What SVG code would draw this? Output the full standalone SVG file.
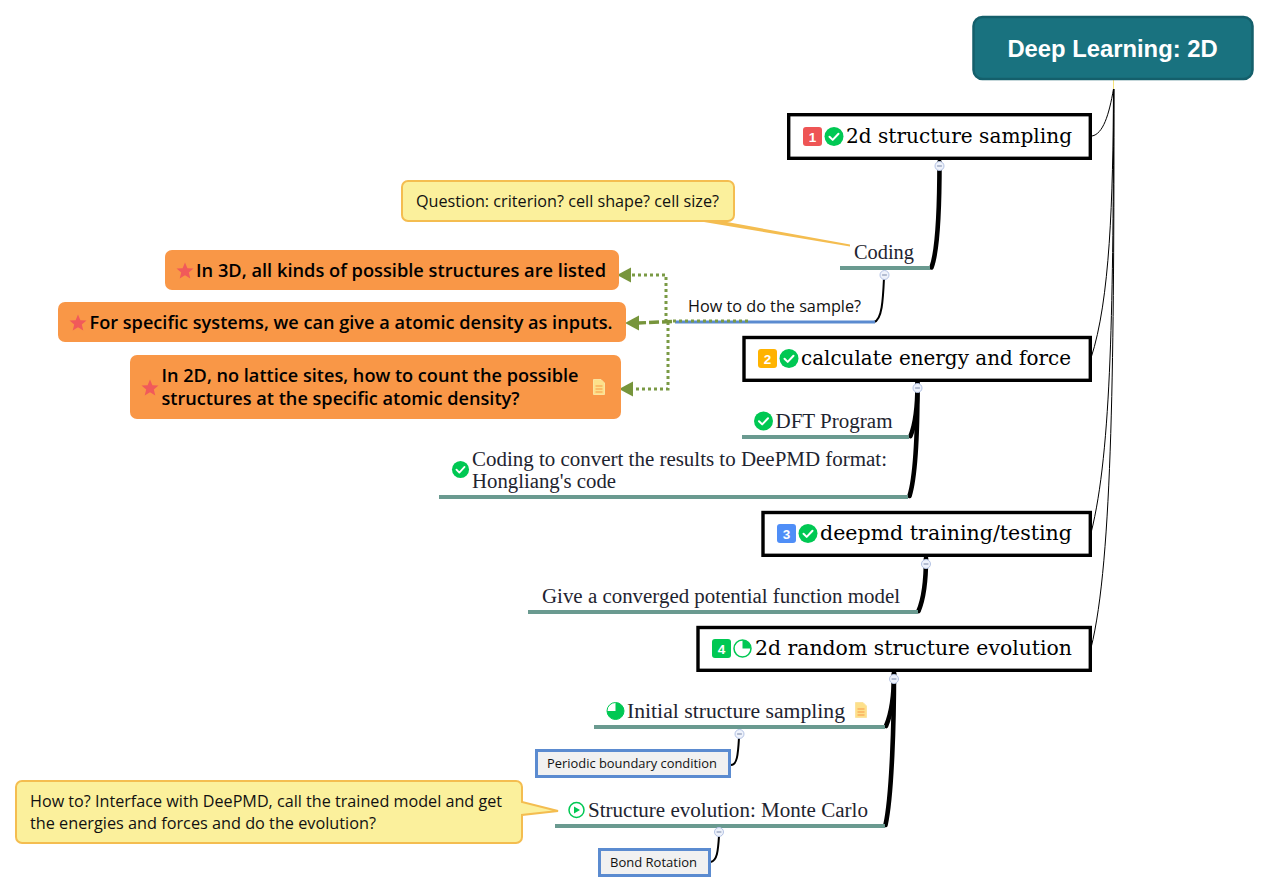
<svg xmlns="http://www.w3.org/2000/svg" width="1270" height="893" viewBox="0 0 1270 893">
<style>
.main{fill:#fff;stroke:#000;stroke-width:3.400}
.mt{font-family:"DejaVu Serif",serif;font-size:20.500px;fill:#000}
.sub{font-family:"Liberation Serif","DejaVu Serif",serif;font-size:20px;fill:#1e2430}
.note{font-family:"Open Sans",sans-serif;font-size:16px;fill:#111}
.bold{font-family:"Open Sans",sans-serif;font-weight:600;font-size:17.500px;fill:#000}
.box{fill:#f1f1f1;stroke:#5b8bd0;stroke-width:3}
.boxt{font-family:"Open Sans",sans-serif;font-size:12.500px;fill:#111}
.org{fill:#f99747}
.call{fill:#fbf09c;stroke:#f4bd50;stroke-width:2}
.ul{fill:#6a9a90}
.thin{fill:none;stroke:#000;stroke-width:1}
.thick{fill:none;stroke:#000;stroke-width:4.600;stroke-linecap:round}
.ch{fill:none;stroke:#000;stroke-width:2}
.dot{fill:none;stroke:#7a9a45;stroke-width:3;stroke-dasharray:3 3}
.dash{fill:none;stroke:#77953c;stroke-width:3.400;stroke-dasharray:10 3}
.ah{fill:#77953c}
.tog{fill:#eef2fb;stroke:#b4c3e4;stroke-width:1}
.togl{stroke:#7a88a8;stroke-width:1}
.chk{fill:#00c853}
.tick{fill:none;stroke:#fff;stroke-width:2;stroke-linecap:round;stroke-linejoin:round}
.num{font-family:"Liberation Sans",sans-serif;font-weight:700;font-size:13.500px;fill:#fff;text-anchor:middle}
.star{fill:#f15a5a}
.doc{fill:#fde08a;stroke:#fbe3a0;stroke-width:1}
.docl{stroke:#f99747;stroke-width:1}
</style>
<defs>
<g id="check"><circle r="9.500" class="chk"/><path class="tick" d="M-4.500 0.200L-1.300 3.400L4.500 -2.800"/></g>
<path id="st" class="star" d="M0 -8.500L2.400 -2.800L8.500 -2.400L3.800 1.500L5.300 7.500L0 4.200L-5.300 7.500L-3.800 1.500L-8.500 -2.400L-2.400 -2.800Z"/>
<g id="docicon"><path class="doc" d="M-5.500 -7.500H2L5.500 -4V7.500H-5.500Z"/><path class="docl" d="M-3.500 -1H3.500M-3.500 2H3.500M-3.500 5H3.500"/></g>
<g id="minus"><circle r="4.500" class="tog"/><path class="togl" d="M-2.400 0H2.400"/></g>
</defs>
<g id="connectors">
<path class="thin" d="M1092 136C1103 134 1109 115 1113.500 89"/>
<path class="thin" d="M1113.500 89C1113 200 1110 300 1091 358"/>
<path class="thin" d="M1113.800 89C1113 300 1112 450 1091 533"/>
<path class="thin" d="M1114 89C1114 350 1113 560 1091 648"/>
<path d="M1113.500 80V89" stroke="#f6e27a" stroke-width="1" fill="none"/>
<path class="thick" d="M939.500 162C939.500 200 938 250 931.500 267.500"/>
<path class="thick" d="M917.500 383C917.500 410 915 425 910.500 436"/>
<path class="thick" d="M917.500 383C917.500 420 916 475 909.500 496"/>
<path class="thick" d="M926 558C926 580 924 598 918.500 611"/>
<path class="thick" d="M894 673C894 695 892 712 886 726"/>
<path class="thick" d="M894 673C894 720 892 795 885.500 825"/>
<path class="ch" d="M884 278C883 300 882 320 874 322"/>
<path class="ch" d="M739 738C738 755 737 765 731 765"/>
<path class="ch" d="M719 836C718 852 717 860 711 862"/>
<path d="M692 220H716L850 244.500V246.500Z" fill="#f4bd50"/>
<rect x="840" y="266" width="90" height="4" class="ul"/>
<rect x="675" y="320.500" width="200" height="3" fill="#5b8bd0"/>
<rect x="742" y="435" width="167" height="4" class="ul"/>
<rect x="439" y="495" width="469" height="4" class="ul"/>
<rect x="528" y="610" width="390" height="4" class="ul"/>
<rect x="594" y="725" width="291" height="4" class="ul"/>
<rect x="555" y="824" width="330" height="4" class="ul"/>
<path class="dot" d="M666 322V275H630"/>
<path class="dot" d="M668 322V389H632"/>
<path class="dot" d="M748 321H672"/>
<path class="dash" d="M672 321.500L638 323"/>
<path class="ah" d="M617 275L631 267.500V282.500Z"/>
<path class="ah" d="M625 323L639 315.500V330.500Z"/>
<path class="ah" d="M619 389L633 381.500V396.500Z"/>
<use href="#minus" x="939.500" y="166"/>
<use href="#minus" x="884.500" y="275"/>
<use href="#minus" x="917.500" y="388"/>
<use href="#minus" x="926" y="564"/>
<use href="#minus" x="894" y="679"/>
<use href="#minus" x="739.500" y="734"/>
<use href="#minus" x="719" y="832"/>
</g>
<g id="root">
<rect x="973.500" y="17" width="279" height="62" rx="9" fill="#19727f" stroke="#145f6b" stroke-width="2.500"/>
<text x="1112.500" y="57" text-anchor="middle" font-family="Liberation Sans,sans-serif" font-weight="700" font-size="23.800px" fill="#fff">Deep Learning: 2D</text>
</g>
<g id="n1">
<rect x="788.700" y="114.700" width="301.600" height="43.600" class="main"/>
<rect x="803" y="127" width="19" height="19" rx="3" fill="#ee5555"/><text x="812.500" y="141.500" class="num">1</text>
<use href="#check" x="834" y="136.500"/>
<text x="846" y="143" class="mt" textLength="226" lengthAdjust="spacingAndGlyphs">2d structure sampling</text>
</g>
<g id="n1-1"><text x="854" y="259" class="sub" textLength="60" lengthAdjust="spacingAndGlyphs">Coding</text></g>
<g id="n1-q">
<rect x="402" y="181" width="332" height="40" rx="6" class="call"/>
<text x="416" y="206.500" class="note" textLength="303" lengthAdjust="spacingAndGlyphs">Question: criterion? cell shape? cell size?</text>
</g>
<g id="n1-2"><text x="688" y="312" class="note" textLength="173" lengthAdjust="spacingAndGlyphs">How to do the sample?</text></g>
<g id="o1">
<rect x="165" y="250" width="454" height="40" rx="7" class="org"/>
<use href="#st" x="185" y="271"/>
<text x="196" y="276.500" class="bold" textLength="410" lengthAdjust="spacingAndGlyphs">In 3D, all kinds of possible structures are listed</text>
</g>
<g id="o2">
<rect x="58" y="302" width="568" height="40" rx="7" class="org"/>
<use href="#st" x="78" y="323"/>
<text x="89.500" y="328.500" class="bold" textLength="523" lengthAdjust="spacingAndGlyphs">For specific systems, we can give a atomic density as inputs.</text>
</g>
<g id="o3">
<rect x="130" y="355" width="491" height="64" rx="7" class="org"/>
<use href="#st" x="150" y="388"/>
<text x="161.500" y="381.500" class="bold" textLength="417" lengthAdjust="spacingAndGlyphs">In 2D, no lattice sites, how to count the possible</text>
<text x="161.500" y="405" class="bold" textLength="358" lengthAdjust="spacingAndGlyphs">structures at the specific atomic density?</text>
<use href="#docicon" x="599" y="387"/>
</g>
<g id="n2">
<rect x="744" y="337.500" width="346.300" height="42.800" class="main"/>
<rect x="758" y="349" width="19" height="19" rx="3" fill="#ffb300"/><text x="767.500" y="363.500" class="num">2</text>
<use href="#check" x="789" y="358.500"/>
<text x="801" y="365" class="mt" textLength="270" lengthAdjust="spacingAndGlyphs">calculate energy and force</text>
</g>
<g id="n2-1">
<use href="#check" x="763.500" y="421"/>
<text x="775.500" y="428" class="sub" textLength="117" lengthAdjust="spacingAndGlyphs">DFT Program</text>
</g>
<g id="n2-2">
<use href="#check" x="460.500" y="469.500" transform="translate(460.500 469.500) scale(.9) translate(-460.500 -469.500)"/>
<text x="472" y="466" class="sub" textLength="415" lengthAdjust="spacingAndGlyphs">Coding to convert the results to DeePMD format:</text>
<text x="472" y="488" class="sub" textLength="144" lengthAdjust="spacingAndGlyphs">Hongliang's code</text>
</g>
<g id="n3">
<rect x="763" y="512.500" width="327.300" height="42.800" class="main"/>
<rect x="777" y="524" width="19" height="19" rx="3" fill="#4f8ef7"/><text x="786.500" y="538.500" class="num">3</text>
<use href="#check" x="808" y="533.500"/>
<text x="820" y="540" class="mt" textLength="252" lengthAdjust="spacingAndGlyphs">deepmd training/testing</text>
</g>
<g id="n3-1"><text x="542" y="603" class="sub" textLength="358" lengthAdjust="spacingAndGlyphs">Give a converged potential function model</text></g>
<g id="n4">
<rect x="698" y="627.500" width="392.300" height="42.800" class="main"/>
<rect x="712" y="639" width="19" height="19" rx="3" fill="#00c853"/><text x="721.500" y="653.500" class="num">4</text>
<circle cx="742.500" cy="648.500" r="8.500" fill="#fff" stroke="#00c853" stroke-width="1.500"/>
<path d="M742.500 648.500V640A8.500 8.500 0 0 1 751 648.500Z" class="chk"/>
<text x="755" y="655" class="mt" textLength="317" lengthAdjust="spacingAndGlyphs">2d random structure evolution</text>
</g>
<g id="n4-1">
<circle cx="615.500" cy="711" r="8.500" fill="#fff" stroke="#00c853" stroke-width="1"/>
<path d="M615.500 711V702.500A8.500 8.500 0 1 1 607 711Z" class="chk"/>
<text x="627" y="718" class="sub" textLength="218" lengthAdjust="spacingAndGlyphs">Initial structure sampling</text>
<use href="#docicon" x="861" y="710"/>
</g>
<g id="n4-1-1">
<rect x="536.500" y="750.500" width="193" height="26" class="box"/>
<text x="547" y="768" class="boxt" textLength="170" lengthAdjust="spacingAndGlyphs">Periodic boundary condition</text>
</g>
<g id="n4-2">
<circle cx="576.500" cy="810" r="7.500" fill="#fff" stroke="#00c853" stroke-width="1.500"/>
<path d="M574 806.500L580 810L574 813.500Z" class="chk"/>
<text x="588" y="817" class="sub" textLength="280" lengthAdjust="spacingAndGlyphs">Structure evolution: Monte Carlo</text>
</g>
<g id="n4-2-1">
<rect x="599.500" y="849.500" width="110" height="26" class="box"/>
<text x="610" y="867" class="boxt" textLength="87" lengthAdjust="spacingAndGlyphs">Bond Rotation</text>
</g>
<g id="n4-q">
<path d="M22 781H516a6 6 0 0 1 6 6V802L558 811L522 815V837a6 6 0 0 1 -6 6H22a6 6 0 0 1 -6 -6V787a6 6 0 0 1 6 -6Z" class="call"/>
<text x="30" y="806.500" class="note" textLength="472" lengthAdjust="spacingAndGlyphs">How to? Interface with DeePMD, call the trained model and get</text>
<text x="30" y="829" class="note" textLength="346" lengthAdjust="spacingAndGlyphs">the energies and forces and do the evolution?</text>
</g>
</svg>
